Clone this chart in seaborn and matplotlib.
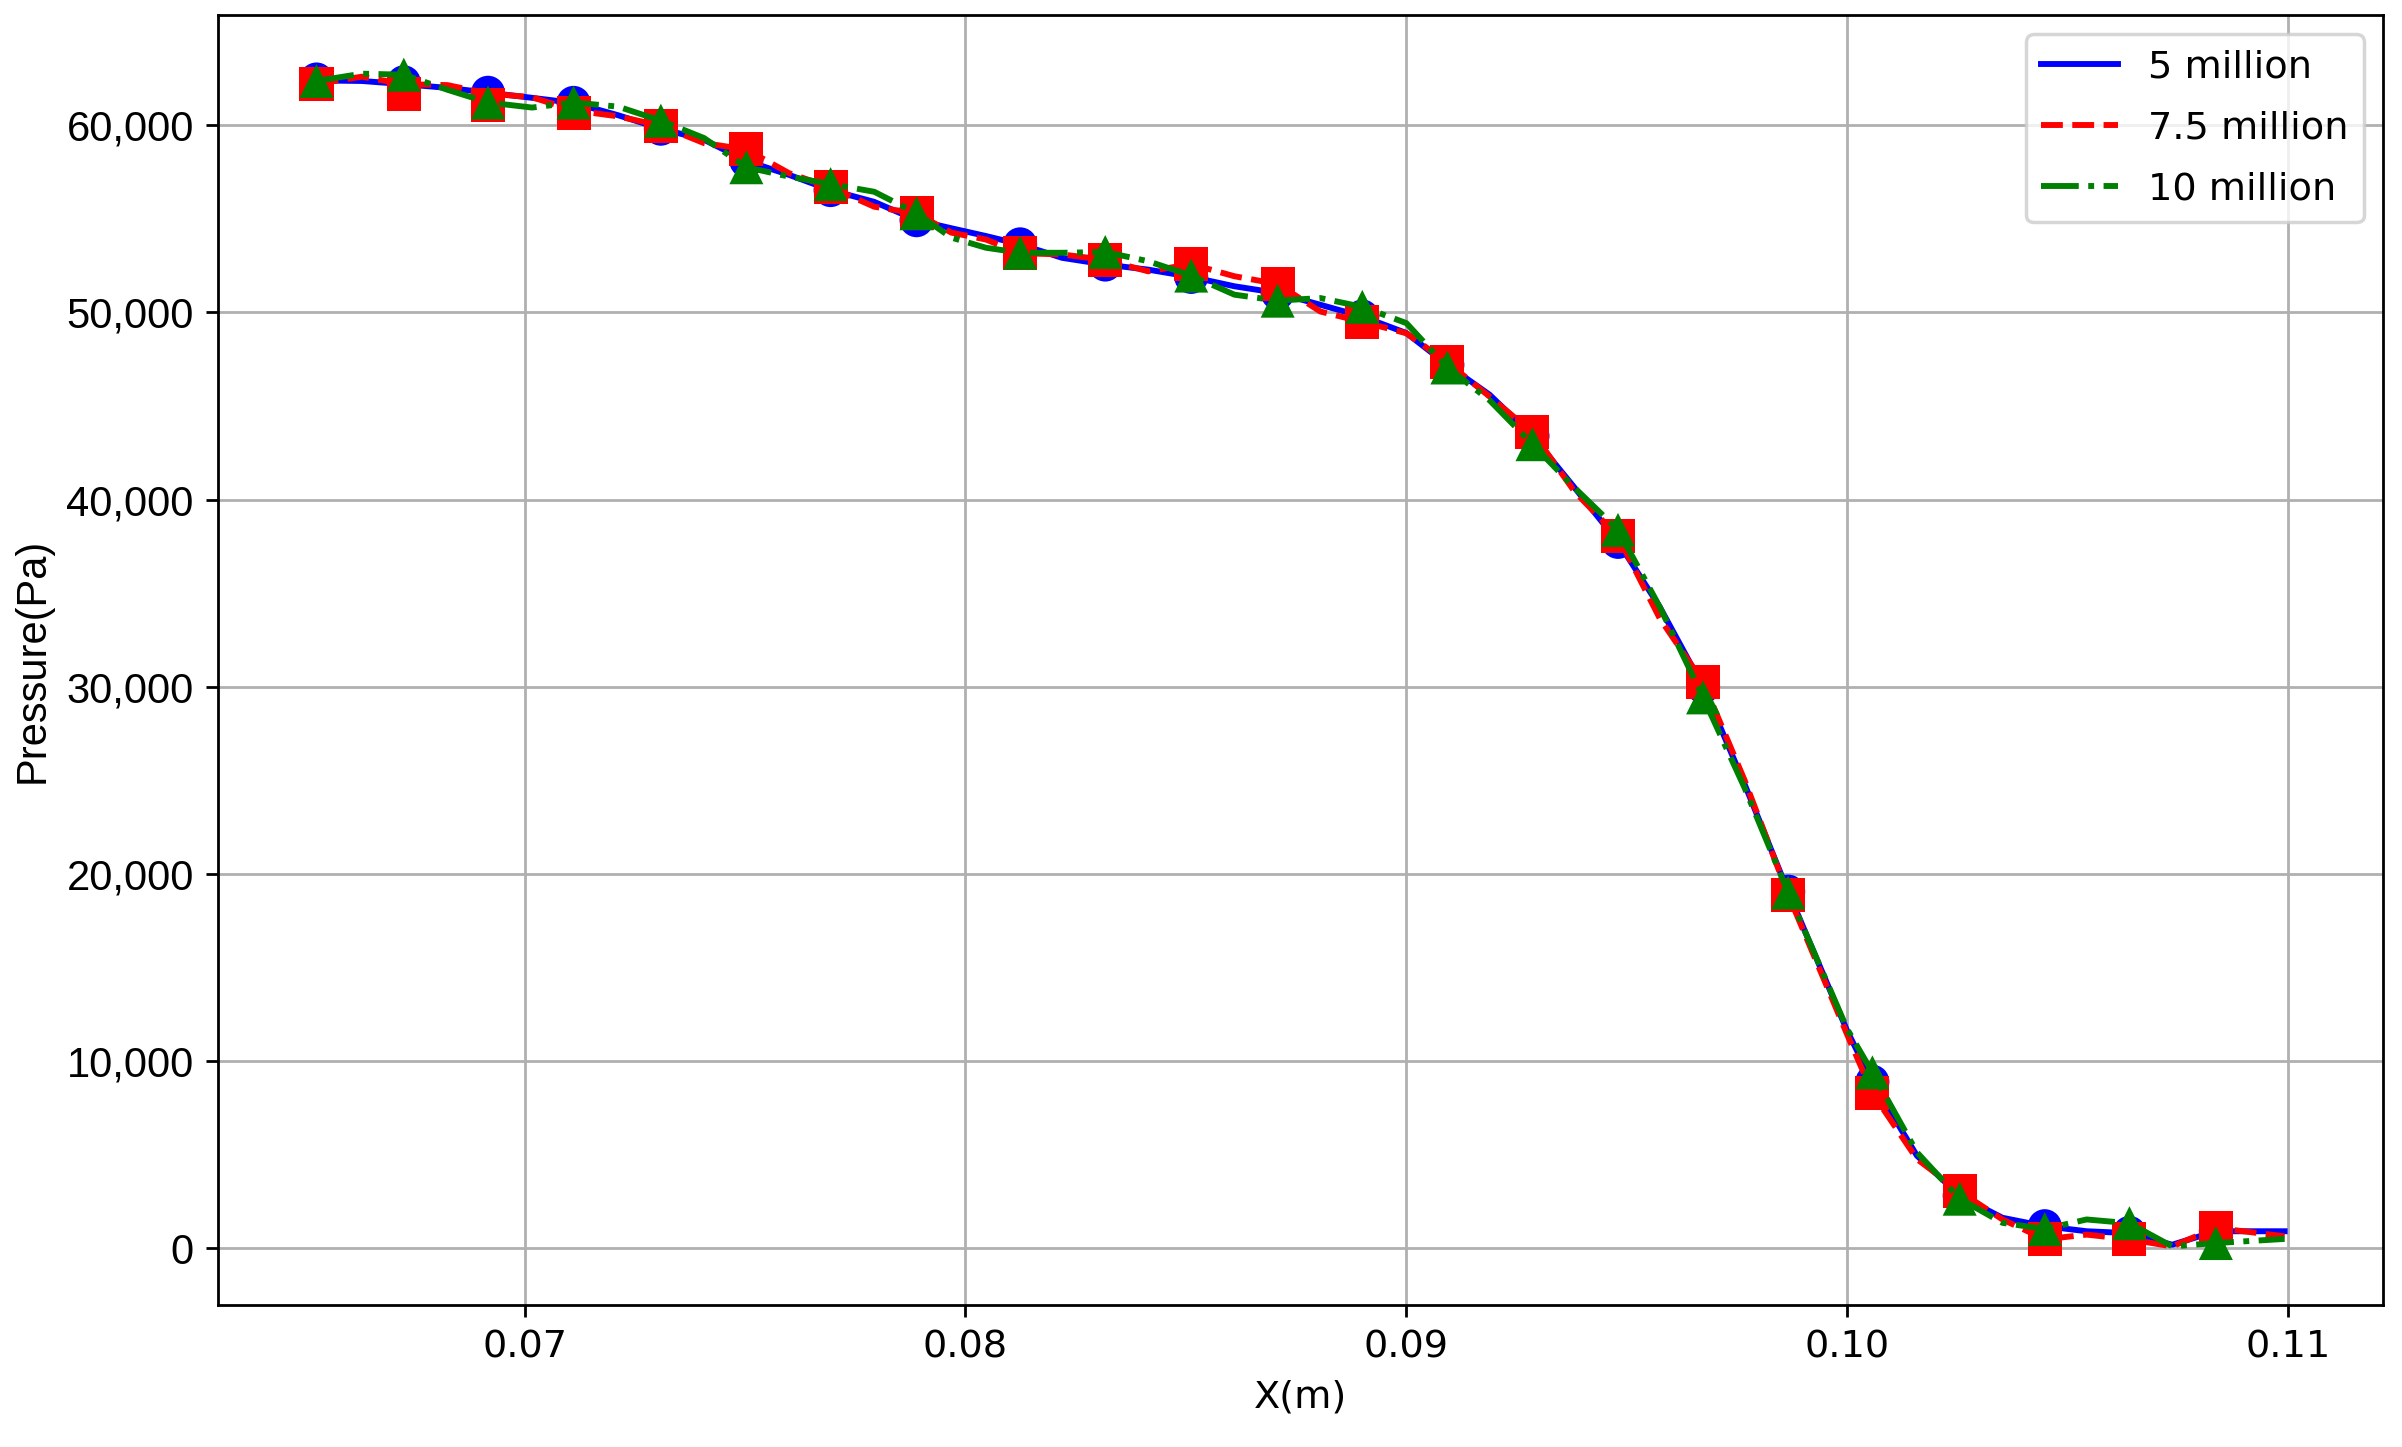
import numpy as np
import matplotlib
matplotlib.use("Agg")
import matplotlib.pyplot as plt
from matplotlib.ticker import FuncFormatter
import seaborn as sns

# ---------------- data ----------------
line_x = [0.06528, 0.06631, 0.06726, 0.06825, 0.06917, 0.07017, 0.07111, 0.07212,
          0.07309, 0.07407, 0.07503, 0.07600, 0.07694, 0.07793, 0.07889, 0.07968,
          0.08046, 0.08124, 0.08219, 0.08317, 0.08414, 0.08512, 0.08610, 0.08708,
          0.08805, 0.08900, 0.09000, 0.09093, 0.09189, 0.09286, 0.09382, 0.09480,
          0.09575, 0.09673, 0.09767, 0.09866, 0.10000, 0.10057, 0.10158, 0.10255,
          0.10352, 0.10448, 0.10543, 0.10640, 0.10737, 0.10836, 0.10992]

blue_line = [62400, 62370, 62200, 62000, 61750, 61470, 61200, 60540,
             59820, 59230, 58100, 57350, 56540, 55910, 54930, 54500,
             54086, 53640, 52920, 52560, 52290, 51900, 51400, 51040,
             50410, 49785, 48900, 47200, 45600, 43400, 40620, 37740,
             34250, 30000, 24800, 19050, 11600, 8890, 4940, 2800,
             1620, 1170, 900, 800, 180, 900, 900]

red_line = [62220, 62600, 62200, 62150, 61700, 61500, 60800, 60480,
            59980, 59050, 58710, 57440, 56685, 55650, 55290, 54265,
            53900, 53170, 53100, 52810, 52200, 52580, 51935, 51520,
            50050, 49500, 48890, 47330, 45500, 43590, 40410, 38030,
            33640, 30250, 25010, 18890, 11400, 8290, 4760, 3030,
            1530, 470, 720, 470, 90, 1080, 630]

green_line = [62370, 62760, 62706, 61900, 61220, 60950, 61220, 61000,
              60250, 59320, 57760, 57260, 56860, 56450, 55300, 54000,
              53460, 53190, 53190, 53230, 52740, 51970, 50950, 50630,
              50770, 50300, 49430, 47060, 45300, 42960, 40620, 38380,
              34250, 29430, 24600, 19000, 11700, 9390, 5120, 2640,
              1350, 1020, 1530, 1330, 90, 270, 490]

mark_x = [0.06528, 0.06726, 0.06917, 0.07111, 0.07309, 0.07503, 0.07694, 0.07889,
          0.08124, 0.08317, 0.08512, 0.08708, 0.08900, 0.09093, 0.09286, 0.09480,
          0.09673, 0.09866, 0.10057, 0.10255, 0.10448, 0.10640, 0.10836]

blue_mark = [62450, 62300, 61740, 61200, 59820, 58100, 56540, 54930,
             53640, 52560, 51900, 51040, 49785, 47200, 43400, 37740,
             30000, 19050, 8890, 2800, 1170, 810, 900]

red_mark = [62220, 61685, 61110, 60645, 59980, 58710, 56685, 55290,
            53170, 52810, 52580, 51520, 49500, 47330, 43590, 38030,
            30250, 18890, 8290, 3030, 470, 470, 1080]

green_mark = [62370, 62706, 61220, 61220, 60250, 57760, 56860, 55300,
              53190, 53230, 51970, 50630, 50300, 47060, 42960, 38380,
              29430, 19000, 9390, 2640, 1020, 1330, 270]

labels = ["5 million", "7.5 million", "10 million"]
y_ticks = [0, 10000, 20000, 30000, 40000, 50000, 60000]
x_ticks = [0.07, 0.08, 0.09, 0.10, 0.11]

# ---------------- figure ----------------
fig = plt.figure(figsize=(2402 / 250, 1447 / 250), dpi=250)
ax = fig.add_subplot(111)
fig.subplots_adjust(left=0.0908, right=0.9921, top=0.9896, bottom=0.0981)

series = [
    (blue_line, blue_mark, "blue", "-", "o", labels[0]),
    (red_line, red_mark, "red", "--", "s", labels[1]),
    (green_line, green_mark, "green", "-.", "^", labels[2]),
]
ms = 9.8
z = 2.0
for ly, my, col, ls, mk, lab in series:
    sns.lineplot(x=line_x, y=ly, ax=ax, color=col, linestyle=ls, linewidth=1.7,
                 label=lab, sort=False, estimator=None, zorder=z)
    sns.scatterplot(x=mark_x, y=my, ax=ax, color=col, marker=mk, s=ms ** 2,
                    edgecolor="none", linewidth=0, zorder=z + 0.01)
    z += 0.02

ax.grid(True, color="#b0b0b0", linewidth=0.8)
ax.set_axisbelow(True)

ax.set_xticks(x_ticks)
ax.set_yticks(y_ticks)
ax.xaxis.set_major_formatter(FuncFormatter(lambda v, p: f"{v:.2f}"))
ax.yaxis.set_major_formatter(FuncFormatter(lambda v, p: f"{v:,.0f}"))
ax.tick_params(axis="x", labelsize=11)
ax.tick_params(axis="y", labelsize=12)
for t in ax.get_yticklabels():
    t.set_fontfamily("Liberation Sans")

ax.set_xlabel("X(m)", fontsize=11, family="DejaVu Sans")
ax.set_ylabel("Pressure(Pa)", fontsize=12, family="Liberation Sans")

ax.legend(loc="upper right", fontsize=11, labelspacing=0.65)

fig.savefig("out.png", dpi=250)
